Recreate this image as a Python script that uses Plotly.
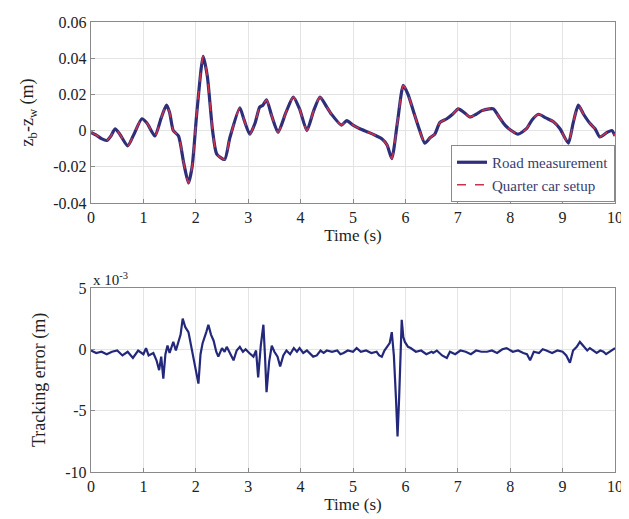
import plotly.graph_objects as go
from plotly.subplots import make_subplots

# ---- Top panel: suspension deflection z_b - z_w (m)
t_top = [0.0, 0.1, 0.2, 0.3, 0.38, 0.46, 0.55, 0.7, 0.82, 0.97, 1.07, 1.22, 1.34, 1.44, 1.5,
         1.57, 1.67, 1.77, 1.86, 1.93, 2.02, 2.14, 2.22, 2.32, 2.40, 2.55, 2.65, 2.84, 2.92,
         3.03, 3.13, 3.22, 3.28, 3.35, 3.45, 3.57, 3.72, 3.86, 3.98, 4.12, 4.25, 4.37, 4.5,
         4.59, 4.78, 4.88, 5.0, 5.13, 5.3, 5.45, 5.55, 5.65, 5.74, 5.85, 5.96, 6.05, 6.15,
         6.25, 6.37, 6.47, 6.56, 6.66, 6.79, 6.9, 7.01, 7.12, 7.23, 7.35, 7.46, 7.6, 7.68,
         7.8, 7.90, 8.02, 8.15, 8.31, 8.42, 8.54, 8.68, 8.82, 8.95, 9.11, 9.2, 9.30, 9.4,
         9.52, 9.62, 9.71, 9.85, 9.94, 10.0]
road_measurement = [-0.001, -0.0025, -0.0045, -0.0055, -0.003, 0.001, -0.002, -0.0085, -0.002,
                    0.0065, 0.004, -0.003, 0.007, 0.014, 0.01, 0.0, -0.003, -0.018, -0.029,
                    -0.02, 0.01, 0.041, 0.03, 0.0, -0.013, -0.016, -0.004, 0.0125, 0.006,
                    -0.002, 0.004, 0.013, 0.014, 0.017, 0.008, -0.001, 0.01, 0.0185, 0.012,
                    0.0, 0.011, 0.0185, 0.013, 0.009, 0.003, 0.0055, 0.003, 0.001, -0.001,
                    -0.003, -0.0045, -0.008, -0.0155, 0.005, 0.025, 0.02, 0.011, 0.002,
                    -0.007, -0.004, -0.002, 0.0045, 0.0065, 0.009, 0.012, 0.01, 0.0075, 0.009,
                    0.011, 0.012, 0.012, 0.007, 0.003, 0.0, -0.002, 0.001, 0.006, 0.009, 0.007,
                    0.005, 0.001, -0.007, 0.004, 0.014, 0.009, 0.004, 0.001, -0.0035, -0.001,
                    0.0, -0.003]
quarter_car_setup = list(road_measurement)

# ---- Bottom panel: tracking error (x 10^-3 m)
t_err = [0.0, 0.1, 0.2, 0.3, 0.4, 0.5, 0.6, 0.7, 0.8, 0.9, 1.0, 1.05, 1.1, 1.19, 1.25, 1.3, 1.34,
         1.38, 1.42, 1.46, 1.5, 1.57, 1.62, 1.66, 1.71, 1.75, 1.8, 1.86, 1.91, 1.95, 2.0, 2.05,
         2.09, 2.13, 2.2, 2.24, 2.29, 2.34, 2.39, 2.43, 2.5, 2.55, 2.59, 2.65, 2.72, 2.78, 2.84,
         2.9, 2.95, 3.02, 3.1, 3.15, 3.19, 3.24, 3.29, 3.32, 3.35, 3.4, 3.45, 3.5, 3.56, 3.61,
         3.67, 3.73, 3.8, 3.87, 3.93, 3.98, 4.05, 4.12, 4.2, 4.24, 4.31, 4.38, 4.44, 4.5, 4.6,
         4.7, 4.76, 4.82, 4.9, 5.0, 5.07, 5.15, 5.25, 5.35, 5.45, 5.5, 5.55, 5.6, 5.65, 5.7,
         5.74, 5.78, 5.82, 5.85, 5.88, 5.91, 5.93, 5.96, 5.99, 6.05, 6.1, 6.2, 6.3, 6.4, 6.5,
         6.53, 6.6, 6.7, 6.79, 6.85, 6.95, 7.05, 7.15, 7.25, 7.35, 7.45, 7.56, 7.65, 7.75, 7.85,
         7.93, 8.05, 8.15, 8.25, 8.32, 8.38, 8.45, 8.55, 8.62, 8.69, 8.8, 8.9, 9.0, 9.07, 9.14,
         9.2, 9.27, 9.33, 9.4, 9.47, 9.52, 9.58, 9.65, 9.72, 9.78, 9.83, 9.9, 9.95, 10.0]
tracking_error = [-0.1, -0.3, -0.2, -0.4, -0.2, -0.1, -0.5, -0.2, -0.7, -0.1, -0.4, 0.1, -0.5,
                  -0.3, -0.9, -1.7, -0.6, -2.4, -0.4, 0.3, -0.3, 0.6, -0.1, 0.4, 1.2, 2.5, 1.8,
                  1.4, 0.3, -0.6, -1.5, -2.8, -0.4, 0.5, 1.4, 2.0, 1.2, 0.7, -0.2, -0.6, 0.1,
                  -0.2, 0.2, -0.3, -0.9, -0.1, 0.2, -0.2, 0.0, -0.3, -0.6, -0.1, -2.3, 0.3, 2.0,
                  -0.5, -3.5, -1.0, 0.3, -0.2, -0.6, -1.4, -0.5, -0.1, -0.4, 0.1, -0.2, 0.1,
                  -0.3, -0.1, -0.4, -0.6, -0.5, -0.1, -0.3, -0.1, -0.2, -0.1, -0.4, -0.3, -0.1,
                  -0.2, 0.1, -0.2, -0.1, -0.3, -0.2, -0.5, -0.6, -0.1, 0.2, 0.5, 1.4, -0.5,
                  -4.0, -7.1, -4.0, 0.5, 2.4, 1.0, 0.6, 0.2, 0.1, -0.2, -0.1, -0.4, -0.2, -0.3,
                  -0.1, -0.5, -0.7, -0.2, -0.4, -0.1, -0.2, -0.4, -0.1, -0.2, -0.2, -0.1, -0.3,
                  0.0, 0.1, -0.2, -0.1, -0.3, -0.4, -0.9, -0.2, -0.3, 0.0, -0.1, -0.3, -0.1,
                  -0.2, -0.5, -1.1, -0.1, 0.2, 0.6, 0.2, -0.1, 0.1, -0.1, -0.3, -0.1, -0.2,
                  -0.4, -0.2, 0.0, 0.1]

x_ticks = list(range(0, 11))
top_yticks = [-0.04, -0.02, 0, 0.02, 0.04, 0.06]
top_yticklabels = ["-0.04", "-0.02", "0", "0.02", "0.04", "0.06"]
bot_yticks = [-10, -5, 0, 5]
bot_yticklabels = ["-10", "-5", "0", "5"]

FONT = "Liberation Serif"
TXT = "#222222"
FRAME = "#8a8a8a"
GRID = "#e4e4e4"

fig = make_subplots(rows=2, cols=1, shared_xaxes=False, vertical_spacing=0.19,
                    row_heights=[0.5, 0.5])

fig.add_trace(go.Scatter(x=t_top, y=road_measurement, mode="lines", name="Road measurement",
                         line=dict(color="#2e2f78", width=3.2, shape="spline", smoothing=0.6)),
              row=1, col=1)
fig.add_trace(go.Scatter(x=t_top, y=quarter_car_setup, mode="lines", name="Quarter car setup",
                         line=dict(color="#c8324e", width=1.6, dash="dash", shape="spline",
                                   smoothing=0.6)),
              row=1, col=1)
fig.add_trace(go.Scatter(x=t_err, y=tracking_error, mode="lines", name="Tracking error",
                         showlegend=False,
                         line=dict(color="#23287a", width=2.2)),
              row=2, col=1)

axis_common = dict(showline=True, linecolor=FRAME, linewidth=1.4, mirror=True,
                   ticks="inside", ticklen=4, tickcolor=FRAME,
                   showgrid=True, gridcolor=GRID, gridwidth=1, zeroline=False,
                   tickfont=dict(family=FONT, size=16, color=TXT))

fig.update_xaxes(range=[0, 10], tickvals=x_ticks, ticktext=[str(v) for v in x_ticks],
                 title=dict(text="Time (s)", font=dict(family=FONT, size=17, color=TXT),
                            standoff=2),
                 automargin=False, **axis_common)
fig.update_yaxes(range=[-0.04, 0.06], tickvals=top_yticks, ticktext=top_yticklabels,
                 title=dict(text="z<sub>b</sub>-z<sub>w</sub> (m)",
                            font=dict(family=FONT, size=18, color=TXT), standoff=14),
                 automargin=False, row=1, col=1, **axis_common)
fig.update_yaxes(range=[-10, 5], tickvals=bot_yticks, ticktext=bot_yticklabels,
                 title=dict(text="Tracking error (m)",
                            font=dict(family=FONT, size=18, color=TXT), standoff=14),
                 automargin=False, row=2, col=1, **axis_common)

# The page body adds an 8 px margin, so the figure is drawn 8 px smaller.
fig.update_layout(
    width=621, height=511,
    margin=dict(l=83, r=14, t=14, b=47),
    paper_bgcolor="white", plot_bgcolor="white",
    font=dict(family=FONT, color=TXT),
    yaxis=dict(domain=[0.598, 1.0]),
    yaxis2=dict(domain=[0.0, 0.409]),
    legend=dict(x=1.0, y=0.600, xanchor="right", yanchor="bottom",
                xref="paper", yref="paper",
                bgcolor="white", bordercolor=FRAME, borderwidth=1,
                font=dict(family=FONT, size=15, color="#3a3d6e"),
                itemwidth=30, tracegroupgap=2),
    showlegend=True,
)

fig.add_annotation(text="x 10<sup>-3</sup>", x=0.0, y=0.409, xref="paper", yref="paper",
                   xanchor="left", yanchor="bottom", showarrow=False, yshift=-2,
                   font=dict(family=FONT, size=15, color=TXT))

fig.write_html("out.html")
